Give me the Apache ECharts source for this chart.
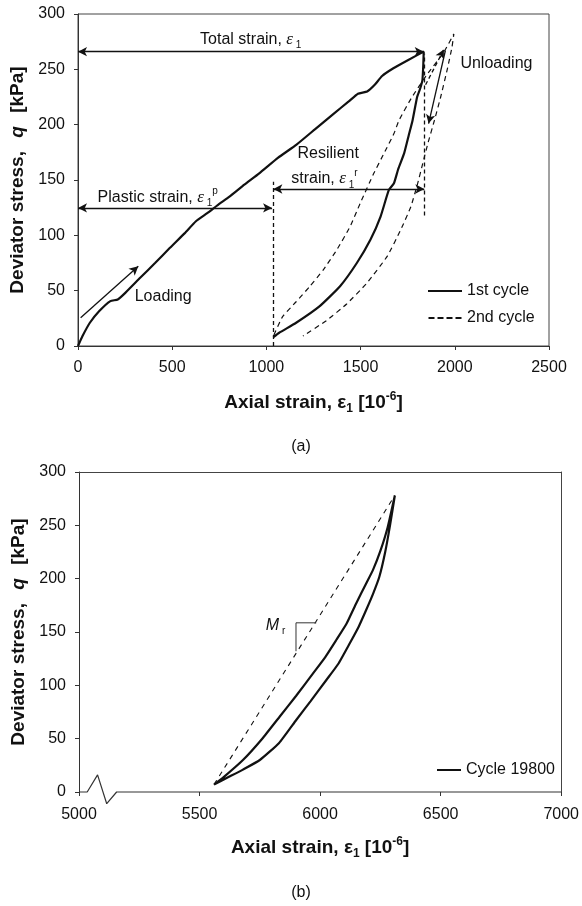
<!DOCTYPE html>
<html><head><meta charset="utf-8">
<script src="https://cdn.jsdelivr.net/npm/echarts@6/dist/echarts.min.js"></script>
<style>html,body{margin:0;padding:0;background:#fff;}#c{width:582px;height:906px;}</style>
</head><body><div id="c"></div>
<script>
// ---------------- Panel (a) data ----------------
const aXTicks = [0, 500, 1000, 1500, 2000, 2500];
const aYTicks = [0, 50, 100, 150, 200, 250, 300];
const cycle1LoadX = [0, 24, 63, 113, 172, 211, 251, 330, 409, 488, 567, 626, 686, 745, 804, 883, 962, 1061, 1160, 1259, 1358, 1437, 1486, 1535, 1575, 1614, 1674, 1753, 1835];
const cycle1LoadY = [0, 9, 21, 31.6, 40.6, 42, 48, 61.6, 75, 88.7, 102, 112.7, 120, 127.8, 135, 145.8, 156, 170, 182, 196, 210, 221, 228, 230, 236, 244, 251, 258.5, 266];
const cycle1UnloadX = [1833, 1828, 1815, 1800, 1776, 1755, 1731, 1700, 1677, 1650, 1606, 1552, 1480, 1391, 1283, 1158, 1068, 1037];
const cycle1UnloadY = [255, 240, 232, 225, 204, 190, 174, 160, 147, 141, 117, 96, 75, 54, 36, 21, 12, 8];
const cycle2LoadX = [1040, 1086, 1158, 1229, 1301, 1373, 1444, 1498, 1570, 1624, 1677, 1704, 1773, 1851, 1940, 1995];
const cycle2LoadY = [10, 26.5, 40, 53.6, 68.6, 86.7, 107.8, 129, 156, 174, 192, 204, 225, 245, 265, 282];
const cycle2UnloadX = [1985, 1960, 1925, 1892, 1857, 1830, 1803, 1767, 1713, 1641, 1534, 1426, 1319, 1194];
const cycle2UnloadY = [270, 250, 225, 204, 183, 165, 147, 126, 105, 81, 57, 38, 23, 9];

// ---------------- Panel (b) data ----------------
const bXTicks = [5000, 5500, 6000, 6500, 7000];
const bYTicks = [0, 50, 100, 150, 200, 250, 300];
const loopUpperX = [5560, 5600, 5680, 5760, 5832, 5900, 5970, 6020, 6067, 6110, 6150, 6190, 6219, 6250, 6280, 6310];
const loopUpperY = [7, 14, 30, 50, 70.6, 90, 111, 126, 142.5, 158, 177, 195, 208, 226, 248, 278];
const loopLowerX = [6290, 6270, 6246, 6220, 6191, 6160, 6122, 6075, 6026, 5960, 5901, 5830, 5750, 5680, 5620, 5560];
const loopLowerY = [250, 225, 202, 186, 170.6, 155, 139, 120, 105, 85, 67.5, 46, 30, 21, 14, 7];
const secantX = [5560, 6310];
const secantY = [7, 278];
const triangleX = [5984, 5900, 5900];
const triangleY = [158.6, 158.6, 132];
const breakX = [5000, 5034, 5077, 5115, 5156, 7000];
const breakY = [0, 0, 16, -11, 0, 0];

const zip = (xs, ys) => xs.map((x, i) => [x, ys[i]]);
const FONT = 'Liberation Sans, Arial, sans-serif';
const INK = '#111';

const chart = echarts.init(document.getElementById('c'), null, {renderer: 'canvas'});

const nameRichX = {
  b: {fontSize: 19, fontWeight: 'bold', fontFamily: FONT, color: INK, lineHeight: 24, verticalAlign: 'middle'},
  sub: {fontSize: 12, fontWeight: 'bold', fontFamily: FONT, color: INK, lineHeight: 13, verticalAlign: 'bottom'},
  sup: {fontSize: 12, fontWeight: 'bold', fontFamily: FONT, color: INK, lineHeight: 13, verticalAlign: 'top'}
};
const nameRichY = {
  b: {fontSize: 19, fontWeight: 'bold', fontFamily: FONT, color: INK},
  q: {fontSize: 19, fontWeight: 'bold', fontStyle: 'italic', fontFamily: FONT, color: INK}
};
const tickFmt = v => String(v);

function valueAxis(grid, ticks, extra) {
  return Object.assign({
    type: 'value', gridIndex: grid,
    min: ticks[0], max: ticks[ticks.length - 1], interval: ticks[1] - ticks[0],
    axisLine: {show: true, onZero: false, lineStyle: {color: '#333', width: 1}},
    axisTick: {show: true, length: 4, lineStyle: {color: '#333'}},
    splitLine: {show: false}
  }, extra);
}
function frameAxis(grid, ticks, position) {
  return {
    type: 'value', gridIndex: grid, position: position,
    min: ticks[0], max: ticks[ticks.length - 1], interval: ticks[1] - ticks[0],
    axisLine: {show: true, onZero: false, lineStyle: {color: '#444', width: 1}},
    axisTick: {show: false}, axisLabel: {show: false}, splitLine: {show: false}
  };
}
const lbl = (m) => ({fontSize: 16, color: INK, fontFamily: FONT, margin: m, formatter: tickFmt});

const xName = '{b|Axial strain, ε}{sub|1}{b| [10}{sup|-6}{b|]}';
const yName = '{b|Deviator stress,}    {q|q}    {b|[kPa]}';

function arrow(p1, p2, s1, s2, dashed) {
  const ls = {color: INK, width: 1.3, type: dashed ? [4, 3] : 'solid'};
  return [
    {coord: p1, symbol: s1 ? 'arrow' : 'none', symbolSize: [7, 9], lineStyle: ls},
    {coord: p2, symbol: s2 ? 'arrow' : 'none', symbolSize: [7, 9], lineStyle: ls}
  ];
}

const solidIcon = 'path://M0,0h34v2h-34z';
const dashIcon = 'path://M0,0h6v2h-6zM9,0h6v2h-6zM18,0h6v2h-6zM27,0h6v2h-6z';

const option = {
  animation: false,
  backgroundColor: '#fff',
  textStyle: {fontFamily: FONT},
  grid: [
    {left: 78, top: 14, width: 471, height: 332, show: true, borderColor: '#444', borderWidth: 1, containLabel: false},
    {left: 79, top: 472, width: 485, height: 320, show: false, containLabel: false}
  ],
  xAxis: [
    valueAxis(0, aXTicks, {axisLabel: lbl(14),
      name: xName, nameLocation: 'middle', nameGap: 45, nameTextStyle: {rich: nameRichX}}),
    valueAxis(1, bXTicks, {axisLine: {show: false}, axisLabel: lbl(15),
      name: xName, nameLocation: 'middle', nameGap: 44, nameTextStyle: {rich: nameRichX}}),
    frameAxis(1, bXTicks, 'top')
  ],
  yAxis: [
    valueAxis(0, aYTicks, {axisLabel: lbl(13),
      name: yName, nameLocation: 'middle', nameGap: 47, nameRotate: 90, nameTextStyle: {rich: nameRichY}}),
    valueAxis(1, bYTicks, {axisLabel: lbl(13),
      name: yName, nameLocation: 'middle', nameGap: 47, nameRotate: 90, nameTextStyle: {rich: nameRichY}}),
    frameAxis(1, bYTicks, 'right')
  ],
  legend: [
    {data: [{name: '1st cycle', icon: solidIcon}, {name: '2nd cycle', icon: dashIcon}],
     orient: 'vertical', left: 428, top: 282, padding: 0, itemWidth: 34, itemHeight: 2,
     itemGap: 9, textStyle: {fontSize: 16, lineHeight: 18, color: INK, fontFamily: FONT}, selectedMode: false,
     itemStyle: {color: INK, borderWidth: 0}},
    {data: [{name: 'Cycle 19800', icon: 'path://M0,0h24v2h-24z'}], orient: 'vertical', left: 437, top: 761, padding: 0,
     itemWidth: 24, itemHeight: 2, textStyle: {fontSize: 16, lineHeight: 18, color: INK, fontFamily: FONT},
     selectedMode: false, itemStyle: {color: INK, borderWidth: 0}}
  ],
  series: [
    {name: '1st cycle', type: 'line', xAxisIndex: 0, yAxisIndex: 0, showSymbol: false, symbol: 'none', smooth: 0.15,
     lineStyle: {color: INK, width: 2.2}, itemStyle: {color: INK},
     data: zip(cycle1LoadX, cycle1LoadY).concat(zip(cycle1UnloadX, cycle1UnloadY))},
    {name: '2nd cycle', type: 'line', xAxisIndex: 0, yAxisIndex: 0, showSymbol: false, symbol: 'none', smooth: 0.15,
     lineStyle: {color: INK, width: 1.2, type: [5, 4]}, itemStyle: {color: INK},
     data: zip(cycle2LoadX, cycle2LoadY).concat(zip(cycle2UnloadX, cycle2UnloadY))},
    {name: 'annA', type: 'line', xAxisIndex: 0, yAxisIndex: 0, data: [], silent: true,
     markLine: {silent: true, animation: false, label: {show: false}, emphasis: {disabled: true},
       data: [
         arrow([0, 266], [1835, 266], true, true),
         arrow([0, 124.8], [1030, 124.8], true, true),
         arrow([1037, 141.9], [1838, 141.9], true, true),
         arrow([14, 25.5], [320, 72], false, true),
         arrow([1950, 267], [1861, 201], false, true),
         arrow([1845, 236], [1942, 268], false, true, true),
         arrow([1037, 0], [1037, 148.5], false, false, true),
         arrow([1838, 118], [1838, 264], false, false, true)
       ]}},
    {name: 'Cycle 19800', type: 'line', xAxisIndex: 1, yAxisIndex: 1, showSymbol: false, symbol: 'none', smooth: 0.15,
     lineStyle: {color: INK, width: 2.2}, itemStyle: {color: INK},
     data: zip(loopUpperX, loopUpperY).concat(zip(loopLowerX, loopLowerY))},
    {name: 'secant', type: 'line', xAxisIndex: 1, yAxisIndex: 1, showSymbol: false, symbol: 'none', silent: true,
     lineStyle: {color: INK, width: 1.1, type: [5, 5]}, data: zip(secantX, secantY)},
    {name: 'triangle', type: 'line', xAxisIndex: 1, yAxisIndex: 1, showSymbol: false, symbol: 'none', silent: true,
     lineStyle: {color: '#333', width: 1}, data: zip(triangleX, triangleY)},
    {name: 'axisBreak', type: 'line', xAxisIndex: 1, yAxisIndex: 1, showSymbol: false, symbol: 'none', silent: true,
     clip: false, lineStyle: {color: '#333', width: 1.2}, data: zip(breakX, breakY)}
  ]
};
chart.setOption(option);

// Text annotations anchored to data coordinates
const subRich = {
  e: {fontSize: 17, fontStyle: 'italic', fontFamily: 'Liberation Serif, serif', fill: INK, lineHeight: 22, verticalAlign: 'middle'},
  n: {fontSize: 16, fontFamily: FONT, fill: INK, lineHeight: 22, verticalAlign: 'middle'},
  s: {fontSize: 10, fontFamily: FONT, fill: INK, lineHeight: 10, verticalAlign: 'bottom'},
  p: {fontSize: 10, fontFamily: FONT, fill: INK, lineHeight: 10, verticalAlign: 'top'},
  m: {fontSize: 16, fontStyle: 'italic', fontFamily: FONT, fill: INK, lineHeight: 22, verticalAlign: 'middle'}
};
const annA = [
  {text: '{n|Total strain, }{e|ε}{s| 1}', at: [917, 277]},
  {text: '{n|Plastic strain, }{e|ε}{s| 1}{p|p}', at: [423, 134]},
  {text: '{n|Resilient}', at: [1328, 174]},
  {text: '{n|strain, }{e|ε}{s| 1}{p|r}', at: [1308, 151]},
  {text: '{n|Loading}', at: [452, 45]},
  {text: '{n|Unloading}', at: [2221, 255]}
];
const annB = [
  {text: '{m|M}{s| r}', at: [5815, 156]}
];
const graphics = [];
function addText(list, xi, yi) {
  list.forEach(a => {
    const p = chart.convertToPixel({xAxisIndex: xi, yAxisIndex: yi}, a.at);
    graphics.push({type: 'text', x: p[0], y: p[1], silent: true,
      style: {text: a.text, rich: subRich, align: 'center', verticalAlign: 'middle', fill: INK, font: '16px ' + FONT}});
  });
}
addText(annA, 0, 0);
addText(annB, 1, 1);
graphics.push({type: 'text', x: 301, y: 447, silent: true,
  style: {text: '(a)', align: 'center', verticalAlign: 'middle', fill: INK, font: '16px ' + FONT}});
graphics.push({type: 'text', x: 301, y: 893, silent: true,
  style: {text: '(b)', align: 'center', verticalAlign: 'middle', fill: INK, font: '16px ' + FONT}});
chart.setOption({graphic: graphics});
</script>
</body></html>
